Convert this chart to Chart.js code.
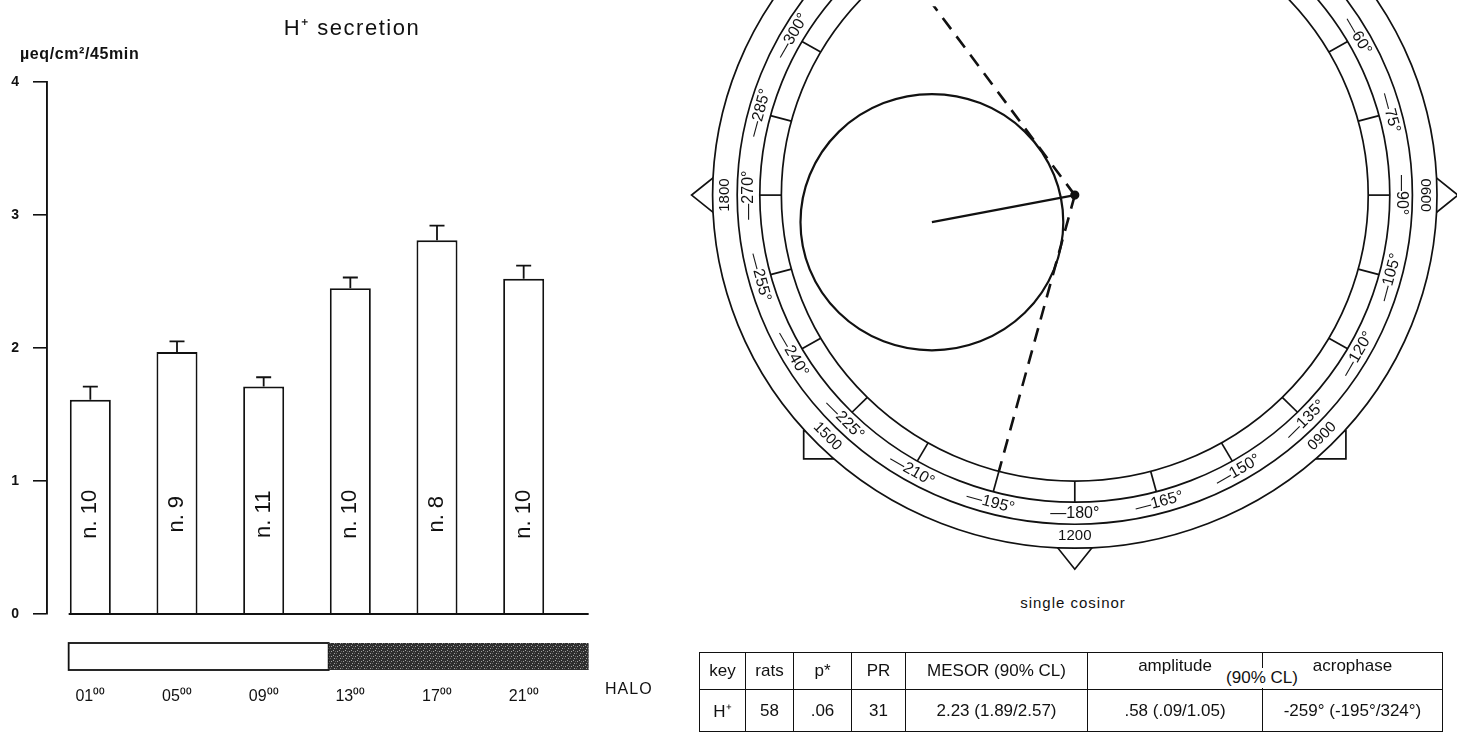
<!DOCTYPE html>
<html>
<head>
<meta charset="utf-8">
<script src="https://cdn.jsdelivr.net/npm/chart.js@4.4.1/dist/chart.umd.min.js"></script>
<style>
  html, body { margin: 0; padding: 0; background: #fff; width: 1457px; height: 735px; overflow: hidden;
    font-family: "Liberation Sans", Arial, sans-serif; color: #111; }
  #barChart { position: absolute; left: 0; top: 0; }
  #cosinorChart { position: absolute; left: 670px; top: 0; }
  .txt { position: absolute; white-space: nowrap; }
  #title { left: 352px; top: 11px; font-size: 22px; letter-spacing: 1.5px; transform: translateX(-50%); }
  #unit { left: 20px; top: 45px; font-size: 16px; font-weight: bold; letter-spacing: 0.6px; }
  #halo { left: 605px; top: 680px; font-size: 16px; letter-spacing: 1px; }
  #cosinorTitle { left: 1073px; top: 594px; font-size: 15px; letter-spacing: 1px; transform: translateX(-50%); }
  #cosinorTable { position: absolute; left: 699px; top: 652px; width: 743px; border-collapse: collapse;
    table-layout: fixed; font-size: 17px; }
  #cosinorTable td { border: 1.5px solid #111; text-align: center; padding: 0; white-space: nowrap; }
  #cosinorTable tr.head td { height: 36px; }
  #cosinorTable tr.head td.top { vertical-align: top; padding-top: 3px; height: 33px; }
  #cosinorTable tr.body td { height: 41px; }
  #clNote { position: absolute; left: 1262px; top: 668px; transform: translateX(-50%); background: #fff;
    font-size: 17px; padding: 0 3px; line-height: 20px; }
</style>
</head>
<body>
<canvas id="barChart" width="670" height="735"></canvas>
<canvas id="cosinorChart" width="787" height="585"></canvas>
<div class="txt" id="title">H⁺ secretion</div>
<div class="txt" id="unit">µeq/cm²/45min</div>
<div class="txt" id="halo">HALO</div>
<div class="txt" id="cosinorTitle">single cosinor</div>
<table id="cosinorTable"></table>
<div class="txt" id="clNote">(90% CL)</div>

<script>
// Dados do gráfico de barras
const hours = ['01⁰⁰', '05⁰⁰', '09⁰⁰', '13⁰⁰', '17⁰⁰', '21⁰⁰'];
const barHours = [1, 5, 9, 13, 17, 21];
const secretion = [1.61, 1.97, 1.71, 2.45, 2.81, 2.52];
const sem = [0.10, 0.08, 0.07, 0.08, 0.11, 0.10];
const nRats = ['n. 10', 'n. 9', 'n. 11', 'n. 10', 'n. 8', 'n. 10'];
const lightFrom = [0, 12];
const lightTo = [12, 24];
const lightDark = [false, true];

// Dados do cosinor
const amplitude = 0.58;
const acrophase = -259;
const acrophaseLimits = [-195, -324];
const degreeTicks = [0, 15, 30, 45, 60, 75, 90, 105, 120, 135, 150, 165, 180, 195, 210, 225, 240, 255, 270, 285, 300, 315, 330, 345];
const clockAngles = [0, 45, 90, 135, 180, 225, 270, 315];
const clockLabels = ['2400', '0300', '0600', '0900', '1200', '1500', '1800', '2100'];

// Tabela
const tableHeader = ['key', 'rats', 'p*', 'PR', 'MESOR (90% CL)', 'amplitude', 'acrophase'];
const tableRow = ['H⁺', '58', '.06', '31', '2.23 (1.89/2.57)', '.58 (.09/1.05)', '-259° (-195°/324°)'];
const tableWidths = [46, 48, 58, 54, 182, 175, 180];

const FONT = '"Liberation Sans", Arial, sans-serif';

function darkPattern(ctx) {
    const c = document.createElement('canvas');
    c.width = 6; c.height = 5;
    const p = c.getContext('2d');
    p.fillStyle = '#2e2e2e';
    p.fillRect(0, 0, 6, 5);
    p.fillStyle = '#a0a0a0';
    p.fillRect(1, 1, 1, 1);
    p.fillRect(4, 3, 1, 1);
    p.fillRect(3, 0, 1, 1);
    p.fillStyle = '#666';
    p.fillRect(0, 3, 1, 1);
    p.fillRect(5, 1, 1, 1);
    return ctx.createPattern(c, 'repeat');
}

// Barras de erro, rótulos n., linha de base e barra claro/escuro
const barExtras = {
    id: 'barExtras',
    afterDatasetsDraw(chart) {
        const { ctx, scales: { x, y } } = chart;
        const meta = chart.getDatasetMeta(0);
        const y0 = y.getPixelForValue(0);
        const step = barHours[1] - barHours[0];
        const hourToPx = h => x.getPixelForValue((h - barHours[0]) / step);

        ctx.save();
        ctx.strokeStyle = '#111';
        ctx.lineWidth = 1.8;

        ctx.beginPath();
        ctx.moveTo(hourToPx(0), y0);
        ctx.lineTo(hourToPx(24), y0);
        ctx.stroke();

        meta.data.forEach((bar, i) => {
            const yTop = y.getPixelForValue(secretion[i] + sem[i]);
            ctx.beginPath();
            ctx.moveTo(bar.x, bar.y);
            ctx.lineTo(bar.x, yTop);
            ctx.moveTo(bar.x - 7.5, yTop);
            ctx.lineTo(bar.x + 7.5, yTop);
            ctx.stroke();

            ctx.save();
            ctx.translate(bar.x, y.getPixelForValue(0.75));
            ctx.rotate(-Math.PI / 2);
            ctx.fillStyle = '#111';
            ctx.font = '22px ' + FONT;
            ctx.textAlign = 'center';
            ctx.textBaseline = 'middle';
            ctx.fillText(nRats[i], 0, 0);
            ctx.restore();
        });

        for (let i = 0; i < lightFrom.length; i++) {
            const x1 = hourToPx(lightFrom[i]);
            const x2 = hourToPx(lightTo[i]);
            ctx.fillStyle = lightDark[i] ? darkPattern(ctx) : '#fff';
            ctx.fillRect(x1, y0 + 29, x2 - x1, 27);
            if (!lightDark[i]) ctx.strokeRect(x1, y0 + 29, x2 - x1, 27);
        }
        ctx.restore();
    }
};

new Chart(document.getElementById('barChart').getContext('2d'), {
    type: 'bar',
    data: {
        labels: hours,
        datasets: [{
            data: secretion,
            backgroundColor: '#fff',
            borderColor: '#111',
            borderWidth: 1.9,
            barPercentage: 0.473,
            categoryPercentage: 1
        }]
    },
    options: {
        responsive: false,
        animation: false,
        layout: { padding: { top: 82, right: 103, left: 0, bottom: 0 } },
        plugins: { legend: { display: false }, tooltip: { enabled: false } },
        scales: {
            x: {
                grid: { display: false },
                border: { display: false },
                ticks: { padding: 65, color: '#111', font: { size: 16, family: FONT } },
                afterFit(s) { s.height = 121; }
            },
            y: {
                min: 0,
                max: 4,
                ticks: { stepSize: 1, padding: 14, color: '#111', font: { size: 14, weight: 'bold', family: FONT } },
                grid: { drawOnChartArea: false, tickLength: 14, color: '#111', lineWidth: 1.6 },
                border: { color: '#111', width: 1.9 },
                afterFit(s) { s.width = 47; }
            }
        }
    },
    plugins: [barExtras]
});

// Grade polar do cosinor: anéis, divisões, rótulos, marcadores e círculo de confiança
const textAngle = deg => (deg > 90 && deg < 270) ? deg - 180 : (deg >= 270 ? deg - 360 : deg);

const cosinorGrid = {
    id: 'cosinorGrid',
    beforeDatasetsDraw(chart, args, opts) {
        const { ctx, scales: { x, y } } = chart;
        const cx = x.getPixelForValue(0), cy = y.getPixelForValue(0);
        const ux = x.getPixelForValue(1) - cx, uy = cy - y.getPixelForValue(1);
        const rad = d => d * Math.PI / 180;
        const pt = (r, deg) => [cx + r * ux * Math.sin(rad(deg)), cy - r * uy * Math.cos(rad(deg))];
        const R = opts.rings;

        ctx.save();
        ctx.strokeStyle = '#111';
        ctx.lineWidth = 1.7;

        // marcadores das horas
        clockAngles.forEach(deg => {
            const [px, py] = pt(R[0], deg);
            const s = Math.sin(rad(deg)), c = -Math.cos(rad(deg));
            ctx.fillStyle = '#fff';
            ctx.beginPath();
            if (deg % 90 === 0) {
                ctx.moveTo(px - 4 * s + 20 * c, py - 4 * c - 20 * s);
                ctx.lineTo(px + 21 * s, py + 21 * c);
                ctx.lineTo(px - 4 * s - 20 * c, py - 4 * c + 20 * s);
                ctx.closePath();
            } else {
                ctx.rect(px - 15, py - 14, 30, 28);
            }
            ctx.fill();
            ctx.stroke();
        });

        ctx.fillStyle = '#fff';
        ctx.beginPath();
        ctx.ellipse(cx, cy, R[0] * ux, R[0] * uy, 0, 0, Math.PI * 2);
        ctx.fill();

        R.forEach(r => {
            ctx.beginPath();
            ctx.ellipse(cx, cy, r * ux, r * uy, 0, 0, Math.PI * 2);
            ctx.stroke();
        });

        // divisões entre os anéis internos
        degreeTicks.forEach(deg => {
            const [x1, y1] = pt(R[2], deg);
            const [x2, y2] = pt(R[3], deg);
            ctx.beginPath();
            ctx.moveTo(x1, y1);
            ctx.lineTo(x2, y2);
            ctx.stroke();
        });

        ctx.fillStyle = '#111';
        ctx.textAlign = 'center';
        ctx.textBaseline = 'middle';
        const drawLabel = (text, r, deg, size) => {
            const [px, py] = pt(r, deg);
            ctx.save();
            ctx.translate(px, py);
            ctx.rotate(rad(textAngle(deg)));
            ctx.font = size + 'px ' + FONT;
            ctx.fillText(text, 0, 0);
            ctx.restore();
        };
        degreeTicks.forEach(deg => drawLabel('—' + deg + '°', (R[1] + R[2]) / 2, deg, 16));
        clockAngles.forEach((deg, i) => drawLabel(clockLabels[i], (R[0] + R[1]) / 2, deg, 15));

        // círculo de confiança em torno do vetor
        const theta = -acrophase;
        const half = rad(Math.abs(acrophaseLimits[1] - acrophaseLimits[0]) / 2);
        const conf = amplitude * Math.sin(half);
        const [tx, ty] = pt(amplitude, theta);
        ctx.lineWidth = 2.2;
        ctx.beginPath();
        ctx.ellipse(tx, ty, conf * ux, conf * uy, 0, 0, Math.PI * 2);
        ctx.stroke();
        ctx.restore();
    }
};

const rings = [1.443, 1.345, 1.255, 1.169];
const polar = (r, deg) => ({ x: r * Math.sin(deg * Math.PI / 180), y: r * Math.cos(deg * Math.PI / 180) });

new Chart(document.getElementById('cosinorChart').getContext('2d'), {
    type: 'scatter',
    data: {
        datasets: [
            {
                data: [{ x: 0, y: 0 }, polar(amplitude, -acrophase)],
                showLine: true,
                borderColor: '#111',
                backgroundColor: '#111',
                borderWidth: 2.2,
                pointRadius: ctx => ctx.dataIndex === 0 ? 3.5 : 0
            },
            ...acrophaseLimits.map(lim => ({
                data: [{ x: 0, y: 0 }, polar(rings[3], -lim)],
                showLine: true,
                borderColor: '#111',
                borderWidth: 2.6,
                borderDash: [14, 9],
                pointRadius: 0
            }))
        ]
    },
    options: {
        responsive: false,
        animation: false,
        layout: { padding: 0 },
        plugins: {
            legend: { display: false },
            tooltip: { enabled: false },
            cosinorGrid: { rings: rings }
        },
        scales: {
            x: { type: 'linear', display: false, min: -1.588, max: 1.498 },
            y: { type: 'linear', display: false, min: -1.568, max: 0.772 }
        }
    },
    plugins: [cosinorGrid]
});

// Monta a tabela do cosinor
const table = document.getElementById('cosinorTable');
const colgroup = '<colgroup>' + tableWidths.map(w => `<col style="width:${w}px">`).join('') + '</colgroup>';
const headHtml = '<tr class="head">' + tableHeader.map((h, i) => `<td${i >= 5 ? ' class="top"' : ''}>${h}</td>`).join('') + '</tr>';
const bodyHtml = '<tr class="body">' + tableRow.map(v => `<td>${v}</td>`).join('') + '</tr>';
table.innerHTML = colgroup + headHtml + bodyHtml;
</script>
</body>
</html>
